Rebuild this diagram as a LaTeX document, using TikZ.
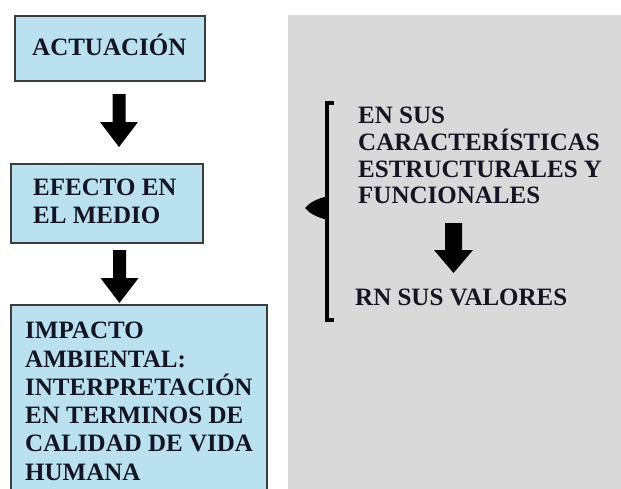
\documentclass[tikz,border=0pt]{standalone}
\usepackage{fontspec}
\setmainfont{Liberation Serif}
\definecolor{boxfill}{RGB}{185,225,240}
\definecolor{boxline}{RGB}{60,60,60}
\definecolor{panel}{RGB}{217,217,217}
\definecolor{ink}{RGB}{20,20,35}
\begin{document}
\begin{tikzpicture}[x=1pt,y=-1pt,
  box/.style={draw=boxline,line width=1.6pt,fill=boxfill,inner sep=0pt,anchor=north west},
  lbl/.style={inner sep=0pt,align=left,text=ink,font=\fontsize{25}{28.3}\selectfont\bfseries},
  rlbl/.style={inner sep=0pt,align=left,text=ink,font=\fontsize{25}{26.7}\selectfont\bfseries},
  downarrow/.pic={\fill[black] (-6.5,0) -- (6.5,0) -- (6.5,28) -- (19,28) -- (0,53) -- (-19,28) -- (-6.5,28) -- cycle;},
  bigarrow/.pic={\fill[black] (-8.5,0) -- (8.5,0) -- (8.5,27) -- (19.5,27) -- (0,50) -- (-19.5,27) -- (-8.5,27) -- cycle;}
]
\useasboundingbox (0,0) rectangle (621,488);
\fill[white] (0,0) rectangle (621,488);
% grey panel
\node[fill=panel,inner sep=0pt,anchor=north west,minimum width=334pt,minimum height=474pt] (panel) at (288,15) {};
% boxes
\node[box,minimum width=190pt,minimum height=65pt] (b1) at (14,15) {};
\node[box,minimum width=192pt,minimum height=79pt] (b2) at (10,163) {};
\node[box,minimum width=256pt,minimum height=200pt] (b3) at (10,304) {};
% texts
\node[lbl,anchor=base west] (t1) at (32,55) {ACTUACIÓN};
\node[lbl,anchor=north west] (t2) at (33,178.5) {EFECTO EN\\EL MEDIO};
\node[lbl,anchor=north west] (t3) at (25,322) {IMPACTO\\AMBIENTAL:\\INTERPRETACIÓN\\EN TERMINOS DE\\CALIDAD DE VIDA\\HUMANA};
\node[rlbl,anchor=north west] (r1) at (358,107) {EN SUS\\CARACTERÍSTICAS\\ESTRUCTURALES Y\\FUNCIONALES};
\node[rlbl,anchor=north west] (r2) at (355,288.5) {RN SUS VALORES};
% arrows
\pic at (119,94) {downarrow};
\pic at (119.5,250) {downarrow};
\pic at (453.5,223) {bigarrow};
% bracket
\coordinate (bt) at (327,103);
\coordinate (bb) at (327,320);
\draw[black,line width=3.2pt] (334,103) -- (bt) -- (bb) -- (334,320);
\fill[black] (328,196) .. controls (316,199) and (309,203) .. (305,208) .. controls (309,213) and (316,217) .. (328,220) -- cycle;
\end{tikzpicture}
\end{document}
